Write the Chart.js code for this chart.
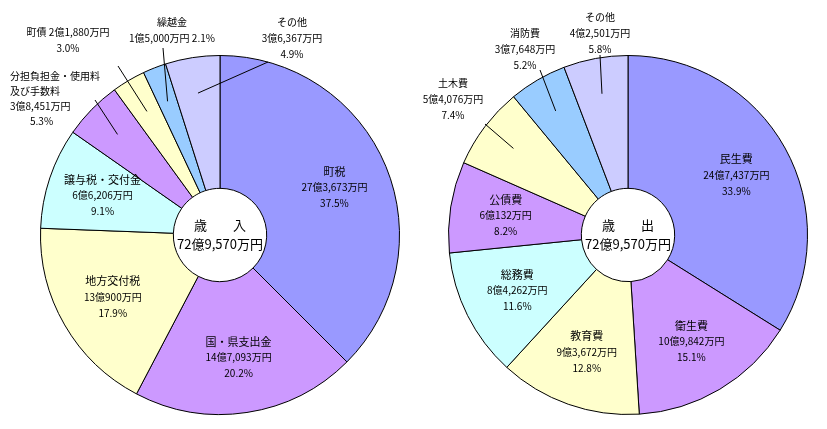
<!DOCTYPE html>
<html><head><meta charset="utf-8">
<script src="https://cdn.jsdelivr.net/npm/chart.js@4/dist/chart.umd.min.js"></script>
<style>body{margin:0;background:#fff}#w{position:relative;width:827px;height:429px}
canvas{position:absolute;top:0}</style></head><body>
<div id="w"><canvas id="c1" style="left:0" width="414" height="429"></canvas><canvas id="c2" style="left:414px" width="413" height="429"></canvas></div>
<script>
const inCats=['町税','国・県支出金','地方交付税','譲与税・交付金','分担負担金・使用料及び手数料','町債','繰越金','その他'];
const inAmt=['27億3,673万円','14億7,093万円','13億900万円','6億6,206万円','3億8,451万円','2億1,880万円','1億5,000万円','3億6,367万円'];
const inPct=[37.5,20.2,17.9,9.1,5.3,3.0,2.1,4.9];
const outCats=['民生費','衛生費','教育費','総務費','公債費','土木費','消防費','その他'];
const outAmt=['24億7,437万円','10億9,842万円','9億3,672万円','8億4,262万円','6億132万円','5億4,076万円','3億7,648万円','4億2,501万円'];
const outPct=[33.9,15.1,12.8,11.6,8.2,7.4,5.2,5.8];
const colors=['#9999ff','#cc99ff','#ffffcc','#ccffff','#cc99ff','#ffffcc','#99ccff','#ccccff'];
const F='"Noto Sans CJK JP", sans-serif';
// label layouts: inside(lines) or outside {lines, x,y (first line), align, lx,ly line start}
const inLabels={
 0:{in:['町税','27億3,673万円','37.5%']},1:{in:['国・県支出金','14億7,093万円','20.2%']},
 2:{in:['地方交付税','13億900万円','17.9%']},3:{in:['譲与税・交付金','6億6,206万円','9.1%']},
 4:{out:['分担負担金・使用料','及び手数料','3億8,451万円','5.3%'],x:10,y:76,align:'left',lx:95,ly:100,mid:[0,0,0,1]},
 5:{out:['町債 2億1,880万円','3.0%'],x:68,y:32,align:'center',lx:118,ly:66},
 6:{out:['繰越金','1億5,000万円 2.1%'],x:172,y:22,align:'center',lx:163,ly:48,off:[0,10]},
 7:{out:['その他','3億6,367万円','4.9%'],x:292,y:22,align:'center',lx:268,ly:62}
};
const outLabels={
 0:{in:['民生費','24億7,437万円','33.9%']},1:{in:['衛生費','10億9,842万円','15.1%']},
 2:{in:['教育費','9億3,672万円','12.8%']},3:{in:['総務費','8億4,262万円','11.6%']},
 4:{in:['公債費','6億132万円','8.2%']},
 5:{out:['土木費','5億4,076万円','7.4%'],x:453-414,y:83,align:'center',lx:485-414,ly:124},
 6:{out:['消防費','3億7,648万円','5.2%'],x:525-414,y:33,align:'center',lx:540-414,ly:70},
 7:{out:['その他','4億2,501万円','5.8%'],x:600-414,y:17,align:'center',lx:600-414,ly:55}
};
function mk(id,cats,pct,labels,title,pad){
 new Chart(document.getElementById(id),{type:'doughnut',
  data:{labels:cats,datasets:[{data:pct,backgroundColor:colors,borderColor:'#000',borderWidth:1}]},
  options:{responsive:false,animation:false,cutout:'26%',layout:{padding:pad},
   plugins:{legend:{display:false},tooltip:{enabled:false}}},
  plugins:[{id:'lbl',afterDraw(ch){
   const ctx=ch.ctx;const arcs=ch.getDatasetMeta(0).data;
   ctx.save();ctx.fillStyle='#000';ctx.textBaseline='middle';
   arcs.forEach((a,i)=>{const L=labels[i];const mid=(a.startAngle+a.endAngle)/2;
    if(L.in){const r=a.outerRadius*0.69;const x=a.x+Math.cos(mid)*r,y=a.y+Math.sin(mid)*r;
     ctx.textAlign='center';
     L.in.forEach((t,k)=>{ctx.font=(k==0?'11px ':'10px ')+F;ctx.fillText(t,x,y+(k-1)*16);});
    }else{
     ctx.textAlign=L.align;
     L.out.forEach((t,k)=>{ctx.font='10px '+F;let x=L.x;if(L.mid&&L.mid[k])x=L.x+20;ctx.fillText(t,x,L.y+k*(L.out.length==4?15:16));});
     const r=a.outerRadius*0.8;ctx.strokeStyle='#000';ctx.lineWidth=1;ctx.beginPath();
     ctx.moveTo(L.lx,L.ly);ctx.lineTo(a.x+Math.cos(mid)*r,a.y+Math.sin(mid)*r);ctx.stroke();
    }});
   const a=arcs[0];ctx.textAlign='center';ctx.font='13px '+F;
   ctx.fillText(title,a.x,a.y-10);ctx.fillText('72億9,570万円',a.x,a.y+9);
   ctx.restore();}}]});
}
mk('c1',inCats,inPct,inLabels,'歳　　入',{left:40,right:14,top:55,bottom:14});
mk('c2',outCats,outPct,outLabels,'歳　　出',{left:34,right:19,top:55,bottom:14});
</script></body></html>
